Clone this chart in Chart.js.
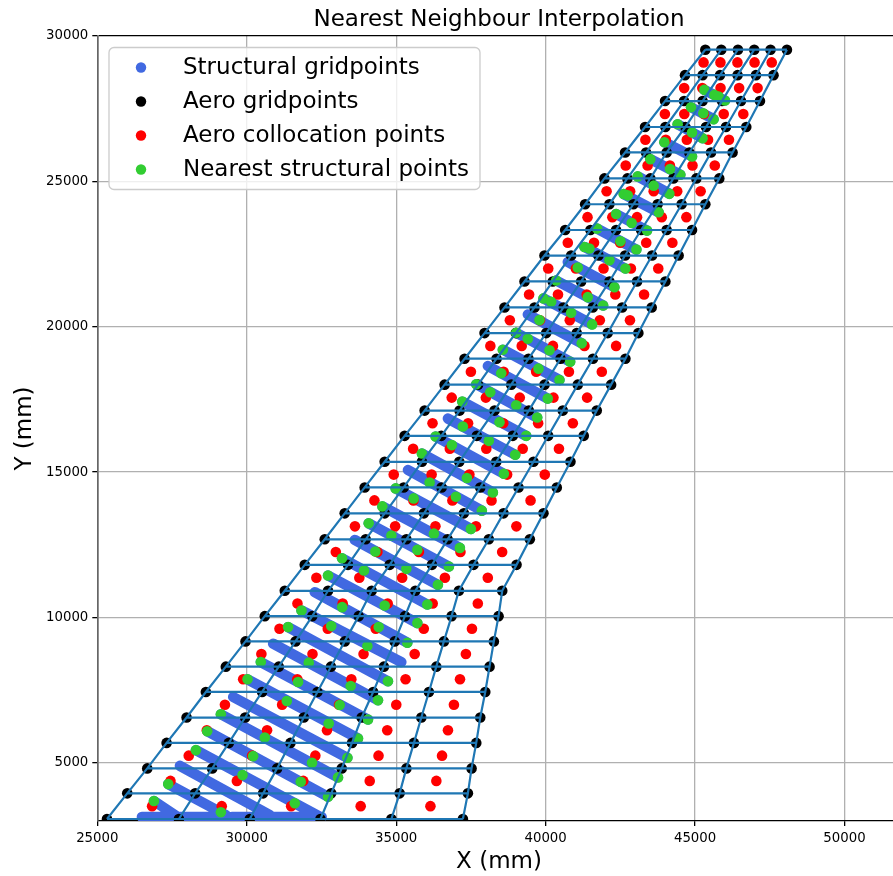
<!DOCTYPE html>
<html>
<head>
<meta charset="utf-8">
<title>Nearest Neighbour Interpolation</title>
<script src="https://cdn.jsdelivr.net/npm/chart.js@4"></script>
<style>
  html, body { margin: 0; background: #fff; overflow: hidden; }
  #wrap { width: 893px; height: 876px; overflow: hidden; }
  canvas { display: block; }
</style>
</head>
<body>
<div id="wrap"><canvas id="chart" width="906" height="876"></canvas></div>
<script>
// Aero panel corners, one row per spanwise station (mm)
const aeroRowY = [3069, 3951, 4809, 5687, 6559, 7438, 8309, 9178, 10046, 10918, 11810, 12689, 13581, 14473, 15355, 16248,
  17116, 18008, 18900, 19782, 20664, 21557, 22449, 23328, 24213, 25102, 25994, 26870, 27762, 28654, 29529];
const aeroRowX = [
  [25324, 27730, 30103, 32466, 34839, 37232],
  [26002, 28275, 30548, 32827, 35116, 37399],
  [26671, 28843, 31015, 33178, 35340, 37522],
  [27319, 29401, 31463, 33522, 35594, 37679],
  [27987, 29946, 31908, 33846, 35841, 37813],
  [28633, 30514, 32365, 34230, 36095, 37980],
  [29301, 31072, 32817, 34588, 36342, 38124],
  [29959, 31630, 33278, 34949, 36596, 38268],
  [30604, 32192, 33746, 35293, 36854, 38425],
  [31273, 32720, 34180, 35641, 37098, 38548],
  [31941, 33388, 34782, 36196, 37589, 39026],
  [32610, 33980, 35340, 36720, 38100, 39471],
  [33278, 34615, 35928, 37265, 38592, 39928],
  [33946, 35250, 36520, 37813, 39093, 40373],
  [34615, 35861, 37111, 38348, 39594, 40831],
  [35283, 36510, 37699, 38903, 40086, 41275],
  [35952, 37121, 38291, 39437, 40574, 41710],
  [36620, 37740, 38849, 39962, 41075, 42191],
  [37288, 38358, 39427, 40497, 41583, 42669],
  [37957, 39003, 40019, 41041, 42077, 43103],
  [38625, 39628, 40597, 41576, 42559, 43548],
  [39294, 40239, 41188, 42134, 43060, 44006],
  [39962, 40854, 41767, 42659, 43561, 44450],
  [40654, 41499, 42358, 43194, 44049, 44898],
  [41322, 42134, 42936, 43748, 44551, 45343],
  [41967, 42736, 43504, 44273, 45042, 45810],
  [42659, 43361, 44049, 44808, 45533, 46255],
  [43327, 44006, 44674, 45366, 46034, 46713],
  [43996, 44631, 45252, 45901, 46536, 47171],
  [44664, 45252, 45834, 46422, 47037, 47625],
  [45343, 45877, 46435, 46980, 47525, 48073]
];

// Collocation points, one row per panel strip
const collocRowY = [3510, 4380, 5248, 6123, 6998, 7874, 8744, 9612, 10482, 11364, 12250, 13135, 14027, 14914, 15802, 16682,
  17562, 18454, 19341, 20223, 21110, 22003, 22888, 23770, 24658, 25548, 26432, 27316, 28208, 29092];
const collocRowX = [
  [26833, 29164, 31486, 33812, 36146],
  [27448, 29670, 31892, 34115, 36344],
  [28059, 30180, 32295, 34409, 36534],
  [28664, 30680, 32685, 34701, 36732],
  [29270, 31184, 33088, 35003, 36932],
  [29880, 31692, 33500, 35314, 37135],
  [30490, 32200, 33908, 35619, 37332],
  [31096, 32711, 34316, 35923, 37535],
  [31697, 33210, 34715, 36221, 37731],
  [32330, 33767, 35200, 36630, 38065],
  [32980, 34372, 35760, 37151, 38546],
  [33620, 34965, 36313, 37669, 39022],
  [34272, 35578, 36881, 38190, 39496],
  [34918, 36185, 37448, 38712, 39972],
  [35567, 36795, 38015, 39233, 40446],
  [36216, 37405, 38583, 39750, 40911],
  [36858, 38000, 39135, 40262, 41388],
  [37500, 38594, 39684, 40780, 41880],
  [38151, 39200, 40246, 41300, 42358],
  [38803, 39812, 40808, 41813, 42822],
  [39447, 40413, 41374, 42332, 43294],
  [40087, 41012, 41937, 42853, 43769],
  [40742, 41619, 42494, 43366, 44240],
  [41402, 42232, 43059, 43886, 44710],
  [42040, 42828, 43615, 44403, 45186],
  [42680, 43412, 44158, 44914, 45660],
  [43338, 44022, 44724, 45435, 46134],
  [43990, 44640, 45298, 45959, 46614],
  [44636, 45242, 45852, 46474, 47092],
  [45284, 45849, 46418, 46991, 47565]
];

// Structural ribs: the gridpoints overlap into solid strips, so each is kept as its two end points
const ribStartX = [26490, 29501, 26895, 27373, 27764, 28298, 28676, 29134, 29545, 30026, 30471, 30882, 31383, 31831, 32275, 32720,
  33188, 33612, 34080, 34538, 34982, 35393, 35861, 36319, 36730, 37211, 37679, 38067, 38568, 39016, 39404, 39928,
  40353, 40741, 41299, 41723, 42358, 42612, 43080, 43504, 43972, 44417, 44865, 45309];
const ribStartY = [3137, 3137, 3687, 4270, 4898, 5437, 6089, 6673, 7266, 7874, 8467, 9099, 9669, 10242, 10870, 11443,
  12037, 12668, 13238, 13821, 14439, 15071, 15640, 16224, 16842, 17425, 18022, 18650, 19210, 19793, 20425, 20974,
  21591, 22230, 22745, 23376, 23877, 24564, 25171, 25765, 26348, 26966, 27549, 28147];
const ribEndX = [29435, 32509, 27697, 29301, 30771, 32442, 32720, 33054, 33368, 33722, 34057, 34391, 34725, 35173, 35373, 35708,
  36042, 36396, 36764, 37131, 37499, 37866, 38234, 38602, 38983, 39350, 39718, 40072, 40463, 40821, 41209, 41556,
  41924, 42301, 42669, 43037, 43394, 43782, 44139, 44507, 44898, 45252, 45620, 46001];
const ribEndY = [3137, 3137, 3137, 3206, 3206, 3148, 3834, 4500, 5173, 5839, 6491, 7153, 7805, 8467, 9133, 9806,
  10448, 11124, 11752, 12394, 13046, 13674, 14302, 14944, 15596, 16248, 16876, 17528, 18170, 18798, 19429, 20081,
  20733, 21361, 22003, 22655, 23307, 23936, 24577, 25229, 25857, 26485, 27138, 27779];

// Structural point picked for the collocation points (many coincide)
const nearestX = [26895, 29134, 31607, 32720, 27373, 29859, 31807, 33054, 28298, 30213, 32185, 33368, 28676, 30604, 32743, 33722,
  29134, 31340, 33111, 34057, 30026, 31717, 33478, 34391, 30471, 32075, 34036, 34725, 31383, 32827, 34414, 35373,
  31831, 33194, 34615, 35708, 32720, 33923, 35340, 36042, 33188, 34304, 35708, 36396, 34080, 34839, 36262, 36764,
  34538, 35584, 36998, 37131, 34982, 36119, 37365, 37499, 35861, 36864, 38100, 37866, 36319, 37231, 38458, 38234,
  38602, 37211, 38147, 39016, 38983, 39350, 37679, 38515, 39761, 39718, 40072, 38568, 39404, 40129, 40463, 40821,
  39016, 39795, 41209, 40854, 41556, 39928, 40186, 41409, 41924, 40353, 42301, 41075, 42134, 42669, 41299, 41466,
  42502, 43037, 41723, 42879, 43394, 42358, 43782, 42612, 42746, 44139, 43080, 43615, 43504, 44163, 44507, 43972,
  44898, 44417, 44898, 45252, 44865, 45276, 45620, 45309, 45643, 45787, 46001];
const nearestY = [3687, 3299, 3608, 3834, 4270, 4579, 4349, 4500, 5437, 5231, 5001, 5173, 6089, 5873, 6353, 5839,
  6673, 7129, 6992, 6491, 7874, 7781, 7644, 7153, 8467, 8447, 9017, 7805, 9669, 9703, 9669, 9133,
  10242, 10355, 10413, 9806, 11443, 11615, 11673, 10448, 12037, 12267, 12325, 11124, 13238, 12816, 12884, 11752,
  13821, 14096, 14154, 12394, 14439, 14645, 14796, 13046, 15640, 15929, 16076, 13674, 16224, 16567, 16718, 14302,
  14944, 17425, 17748, 17301, 15596, 16248, 18022, 18400, 18558, 16876, 17528, 19210, 19587, 19189, 18170, 18798,
  19793, 20229, 19429, 20479, 20081, 20974, 20857, 21018, 20733, 21591, 21361, 22038, 22288, 22003, 22745, 22690,
  22940, 22655, 23376, 23568, 23307, 23877, 23936, 24564, 24519, 24571, 25171, 24852, 25765, 25422, 25229, 26348,
  25857, 26966, 26681, 26485, 27549, 27344, 27138, 28147, 27975, 27917, 27779];

const xTicks = [25000, 30000, 35000, 40000, 45000, 50000];
const yTicks = [5000, 10000, 15000, 20000, 25000, 30000];

const GAP = { x: null, y: null };

const aeroPoints = aeroRowY.flatMap((y, r) => aeroRowX[r].map(x => ({ x, y })));
const collocPoints = collocRowY.flatMap((y, r) => collocRowX[r].map(x => ({ x, y })));
const nearestPoints = nearestX.map((x, i) => ({ x, y: nearestY[i] }));
const ribSegments = ribStartX.flatMap((x, i) => [{ x, y: ribStartY[i] }, { x: ribEndX[i], y: ribEndY[i] }, GAP]);

// mesh: every row, then every column, split by gaps
const meshLines = [
  ...aeroRowY.flatMap((y, r) => [...aeroRowX[r].map(x => ({ x, y })), GAP]),
  ...aeroRowX[0].flatMap((_, c) => [...aeroRowY.map((y, r) => ({ x: aeroRowX[r][c], y })), GAP])
];

const dotStyle = color => ({
  backgroundColor: color, borderColor: color, pointBackgroundColor: color,
  pointRadius: 5.3, pointBorderWidth: 0, pointHoverRadius: 5.3, showLine: false, clip: 0
});

const boxLegend = {
  id: 'boxLegend',
  afterDraw(chart) {
    const ctx = chart.ctx;
    const items = chart.data.datasets.filter(d => d.label);
    ctx.save();
    ctx.beginPath();
    ctx.roundRect(109, 47.5, 371, 142, 5);
    ctx.fillStyle = 'rgba(255,255,255,0.8)';
    ctx.fill();
    ctx.strokeStyle = '#cccccc';
    ctx.lineWidth = 1.3;
    ctx.stroke();
    ctx.font = '23px "DejaVu Sans"';
    ctx.textBaseline = 'middle';
    items.forEach((d, i) => {
      const y = 67.5 + i * 34;
      ctx.beginPath();
      ctx.arc(141, y, 5.2, 0, Math.PI * 2);
      ctx.fillStyle = d.legendColor;
      ctx.fill();
      ctx.fillStyle = '#000';
      ctx.fillText(d.label, 183, y + 1);
    });
    ctx.restore();
  }
};

new Chart(document.getElementById('chart'), {
  type: 'scatter',
  data: {
    datasets: [
      { label: 'Structural gridpoints', legendColor: '#4169e1', data: ribSegments, order: 5, showLine: true, clip: 0,
        borderColor: '#4169e1', backgroundColor: '#4169e1', borderWidth: 10.4, borderCapStyle: 'round', pointRadius: 0, spanGaps: false },
      { label: 'Aero gridpoints', legendColor: '#000000', data: aeroPoints, order: 4, ...dotStyle('#000000') },
      { label: 'Aero collocation points', legendColor: '#ff0000', data: collocPoints, order: 3, ...dotStyle('#ff0000') },
      { label: 'Nearest structural points', legendColor: '#32cd32', data: nearestPoints, order: 2, ...dotStyle('#32cd32') },
      { data: meshLines, order: 1, showLine: true, clip: 0, borderColor: '#1f77b4', borderWidth: 2.2, pointRadius: 0, spanGaps: false }
    ]
  },
  plugins: [boxLegend],
  options: {
    responsive: false,
    animation: false,
    layout: { padding: 0 },
    plugins: {
      legend: { display: false },
      tooltip: { enabled: false },
      title: {
        display: true,
        fullSize: false,
        text: 'Nearest Neighbour Interpolation',
        color: '#000',
        font: { family: 'DejaVu Sans', size: 23, weight: 'normal', lineHeight: 1.2 },
        padding: { top: 6.4, bottom: 2 }
      }
    },
    scales: {
      x: {
        type: 'linear', bounds: 'data', min: 25000, max: 51880,
        title: { display: true, text: 'X (mm)', color: '#000', font: { family: 'DejaVu Sans', size: 23 }, padding: { top: 0, bottom: 0 } },
        afterBuildTicks: s => { s.ticks = xTicks.map(value => ({ value })); },
        afterFit: s => { s.height = 55; },
        ticks: { color: '#000', maxRotation: 0, callback: v => String(v), font: { family: 'DejaVu Sans', size: 13.3 }, padding: 5 },
        grid: { color: c => c.tick && c.tick.value === 25000 ? '#666666' : '#b0b0b0', tickColor: '#000', tickLength: 5, lineWidth: 1.3 },
        border: { color: '#000', width: 1.3 }
      },
      y: {
        type: 'linear', bounds: 'data', min: 3000, max: 30000,
        title: { display: true, text: 'Y (mm)', color: '#000', font: { family: 'DejaVu Sans', size: 23 }, padding: { top: 11, bottom: 0 } },
        afterBuildTicks: s => { s.ticks = yTicks.map(value => ({ value })); },
        afterFit: s => { s.width = 97.3; },
        ticks: { color: '#000', callback: v => String(v), font: { family: 'DejaVu Sans', size: 13.3 }, padding: 4 },
        grid: { color: c => c.tick && c.tick.value === 30000 ? '#000000' : '#b0b0b0', tickColor: '#000', tickLength: 5, lineWidth: 1.3 },
        border: { color: '#666666', width: 1.6 }
      }
    }
  }
});
</script>
</body>
</html>
